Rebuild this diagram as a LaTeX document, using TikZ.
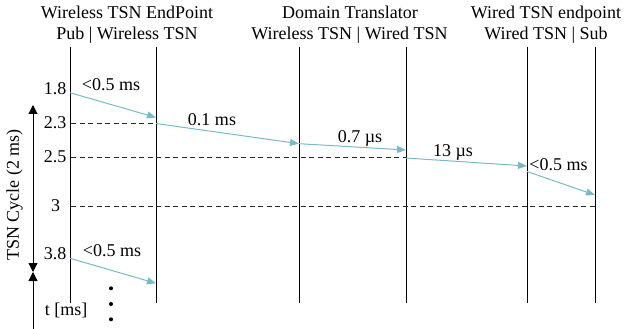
\documentclass[tikz,border=0pt]{standalone}
\usepackage{fontspec}
\setmainfont{Liberation Serif}
\usetikzlibrary{arrows.meta}
\definecolor{flowc}{RGB}{122,186,199}
\definecolor{gridc}{RGB}{40,40,40}
\begin{document}
\begin{tikzpicture}[x=1pt,y=-1pt,
  font=\fontsize{18}{21}\selectfont,
  life/.style={line width=1pt},
  gridline/.style={dashed, dash pattern=on 5pt off 3.5pt, line width=0.9pt, draw=gridc},
  msg/.style={draw=flowc, line width=1pt, -{Triangle[length=9pt,width=7pt,fill=flowc]}},
  lbl/.style={anchor=base, inner sep=0pt},
  tick/.style={inner sep=0pt},
  axis/.style={line width=1pt}]
\useasboundingbox (0,0) rectangle (625,329);

% headers
\node[lbl] (h1a) at (127,18.5) {Wireless TSN EndPoint};
\node[lbl] (h1b) at (127,39.5) {Pub | Wireless TSN};
\node[lbl] (h2a) at (350,18.5) {Domain Translator};
\node[lbl] (h2b) at (349.5,39.5) {Wireless TSN | Wired TSN};
\node[lbl] (h3a) at (546,18.5) {Wired TSN endpoint};
\node[lbl] (h3b) at (546,39.5) {Wired TSN | Sub};

% lifelines
\foreach \n/\x in {1/70,2/156,3/299,4/406,5/527,6/595}{
  \coordinate (T\n) at (\x,47);
  \coordinate (B\n) at (\x,303);
  \draw[life] (T\n) -- (B\n);
}

% dashed time lines
\coordinate (d23a) at (71,123.3);  \coordinate (d23b) at (156,123.3);
\coordinate (d25a) at (71,157.3);  \coordinate (d25b) at (406,157.3);
\coordinate (d3a)  at (71,206);    \coordinate (d3b)  at (595,206);
\draw[gridline] (d23a) -- (d23b);
\draw[gridline] (d25a) -- (d25b);
\draw[gridline] (d3a) -- (d3b);

% tick labels
\node[tick] (t18) at (55,88.5) {1.8};
\node[tick] (t23) at (55,123) {2.3};
\node[tick] (t25) at (55,157) {2.5};
\node[tick] (t3)  at (55.5,206) {3};
\node[tick] (t38) at (55,254) {3.8};

% message arrows
\coordinate (m1s) at (70,92.7);   \coordinate (m1e) at (156,117.5);
\coordinate (m2s) at (156,123.5); \coordinate (m2e) at (299,143.7);
\coordinate (m3s) at (299,143.7); \coordinate (m3e) at (406,150);
\coordinate (m4s) at (406,158);   \coordinate (m4e) at (527,166);
\coordinate (m5s) at (527,171.5); \coordinate (m5e) at (595,195);
\coordinate (m6s) at (70,258.3);  \coordinate (m6e) at (156,283.3);
\draw[msg] (m1s) -- (m1e);
\draw[msg] (m2s) -- (m2e);
\draw[msg] (m3s) -- (m3e);
\draw[msg] (m4s) -- (m4e);
\draw[msg] (m5s) -- (m5e);
\draw[msg] (m6s) -- (m6e);

% message labels
\node[lbl] (l1) at (111,91) {<0.5 ms};
\node[lbl] (l2) at (212,126) {0.1 ms};
\node[lbl] (l3) at (360,142.5) {0.7 µs};
\node[lbl] (l4) at (453,156.5) {13 µs};
\node[lbl] (l5) at (558.5,171) {<0.5 ms};
\node[lbl] (l6) at (112,256.7) {<0.5 ms};

% left time axis
\coordinate (Atop) at (33,105);
\coordinate (Amid) at (33,272);
\coordinate (Abot) at (33,329);
\draw[axis, {Triangle[length=9pt,width=9pt]}-{Triangle[length=9pt,width=9pt]}] (Amid) -- (Atop);
\draw[axis, -{Triangle[length=9pt,width=9pt]}] (Abot) -- (Amid);
\node[rotate=90, inner sep=0pt] (cyc) at (14.5,195) {TSN Cycle (2 ms)};
\node[lbl] (tms) at (66,315) {t [ms]};

% continuation dots
\fill (111,288.3) circle (2pt);
\fill (111,304) circle (2pt);
\fill (111,319.3) circle (2pt);
\end{tikzpicture}
\end{document}
